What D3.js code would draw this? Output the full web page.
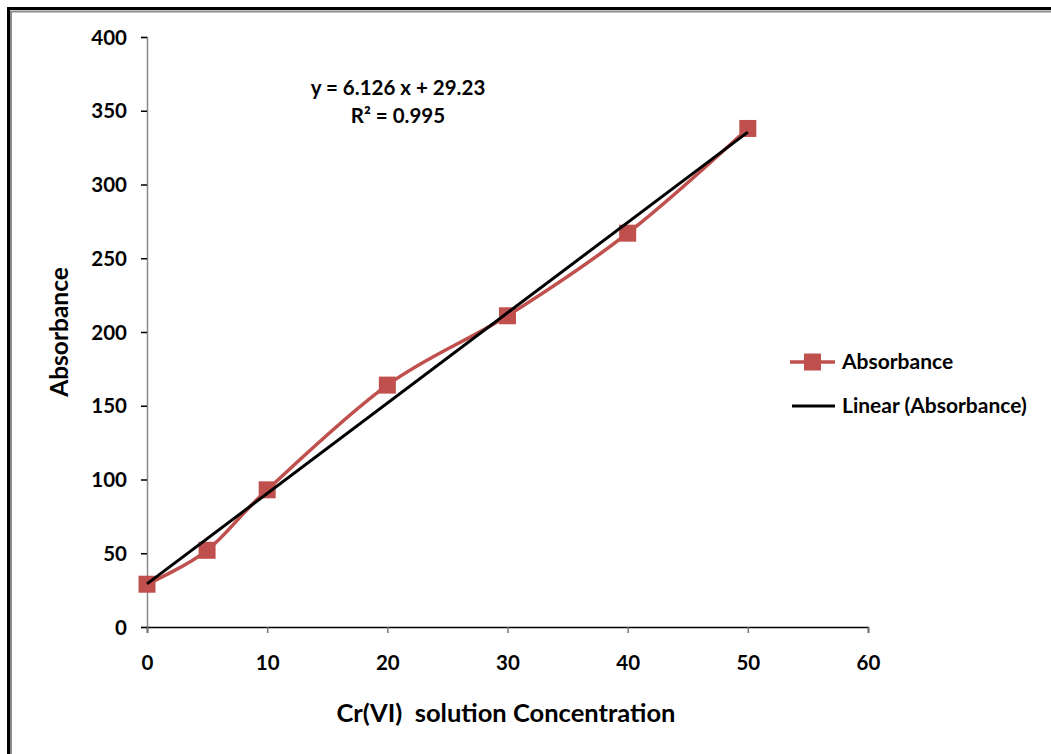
<!DOCTYPE html>
<html>
<head>
<meta charset="utf-8">
<script src="https://cdn.jsdelivr.net/npm/d3@7"></script>
<style>
  body { margin: 0; background: #fff; }
  svg text { font-family: Lato, "Open Sans", sans-serif; font-weight: bold; fill: #000; }
</style>
</head>
<body>
<script>
// data
var concentration = [0, 5, 10, 20, 30, 40, 50];
var absorbance = [29, 52, 93, 164, 211, 267, 338];
var trendCoef = [6.126, 29.23]; // slope, intercept
var xTicks = [0, 10, 20, 30, 40, 50, 60];
var yTicks = [0, 50, 100, 150, 200, 250, 300, 350, 400];

var width = 1051, height = 754;
var margin = {left: 147, top: 37, right: 1051 - 868, bottom: 754 - 627};
var plotW = width - margin.left - margin.right;
var plotH = height - margin.top - margin.bottom;

var data = concentration.map(function(c, i){ return {x: c, y: absorbance[i]}; });

var svg = d3.select('body').append('svg')
    .attr('width', width)
    .attr('height', height);

// frame
svg.append('rect').attr('x', 8.5).attr('y', 8.5).attr('width', width + 10).attr('height', height + 10)
    .attr('fill', 'none').attr('stroke', '#000').attr('stroke-width', 3);
svg.append('rect').attr('x', 11).attr('y', 11.5).attr('width', width + 10).attr('height', height + 10)
    .attr('fill', 'none').attr('stroke', '#8c8c8c').attr('stroke-width', 2);

var x = d3.scaleLinear().domain([0, 60]).range([0, plotW]);
var y = d3.scaleLinear().domain([0, 400]).range([plotH, 0]);

var g = svg.append('g').attr('transform', 'translate(' + margin.left + ',' + margin.top + ')');

// y axis
var yAxis = g.append('g').call(d3.axisLeft(y).tickValues(yTicks).tickSize(6).tickPadding(14));
yAxis.select('.domain').attr('stroke', '#888').attr('stroke-width', 1.5);
yAxis.selectAll('.tick line').attr('stroke', '#000').attr('stroke-width', 1.5);
yAxis.selectAll('.tick text').style('font-size', '20.5px').attr('dy', '0.35em');

// x axis
var xAxis = g.append('g').attr('transform', 'translate(0,' + plotH + ')')
    .call(d3.axisBottom(x).tickValues(xTicks).tickSize(6).tickPadding(22));
xAxis.select('.domain').attr('stroke', '#000').attr('stroke-width', 1.5);
xAxis.selectAll('.tick line').attr('stroke', '#777').attr('stroke-width', 1.5);
xAxis.selectAll('.tick text').style('font-size', '20.5px');

// data line (smoothed)
var line = d3.line()
    .x(function(d){ return x(d.x); })
    .y(function(d){ return y(d.y); })
    .curve(d3.curveCatmullRom.alpha(0));
g.append('path').attr('d', line(data))
    .attr('fill', 'none').attr('stroke', '#C0504D').attr('stroke-width', 3.5);

// markers
g.selectAll('rect.mk').data(data).enter().append('rect')
    .attr('class', 'mk')
    .attr('x', function(d){ return x(d.x) - 8.5; })
    .attr('y', function(d){ return y(d.y) - 8.5; })
    .attr('width', 17).attr('height', 17)
    .attr('fill', '#C0504D');

// linear trendline
var xExt = d3.extent(concentration);
var trend = xExt.map(function(v){ return {x: v, y: trendCoef[0] * v + trendCoef[1]}; });
g.append('path').attr('d', d3.line().x(function(d){ return x(d.x); }).y(function(d){ return y(d.y); })(trend))
    .attr('fill', 'none').attr('stroke', '#000').attr('stroke-width', 3);

// equation
svg.append('text').attr('x', 398).attr('y', 95).attr('text-anchor', 'middle')
    .style('font-size', '20.5px').text('y = 6.126 x + 29.23');
svg.append('text').attr('x', 398).attr('y', 123).attr('text-anchor', 'middle')
    .style('font-size', '20.5px').text('R² = 0.995');

// axis titles
svg.append('text').attr('x', 506).attr('y', 722).attr('text-anchor', 'middle')
    .style('font-size', '25.5px').style('white-space', 'pre').attr('xml:space', 'preserve')
    .text('Cr(VI)  solution Concentration');
svg.append('text').attr('transform', 'translate(68,332) rotate(-90)').attr('text-anchor', 'middle')
    .style('font-size', '24.5px').text('Absorbance');

// legend
var leg = svg.append('g');
leg.append('line').attr('x1', 790).attr('x2', 835).attr('y1', 362).attr('y2', 362)
    .attr('stroke', '#C0504D').attr('stroke-width', 3.5);
leg.append('rect').attr('x', 804).attr('y', 353.5).attr('width', 17).attr('height', 17).attr('fill', '#C0504D');
leg.append('text').attr('x', 842).attr('y', 369).style('font-size', '21px').text('Absorbance');
leg.append('line').attr('x1', 792).attr('x2', 835).attr('y1', 406).attr('y2', 406)
    .attr('stroke', '#000').attr('stroke-width', 3);
leg.append('text').attr('x', 842).attr('y', 413).style('font-size', '21px').text('Linear (Absorbance)');
</script>
</body>
</html>
